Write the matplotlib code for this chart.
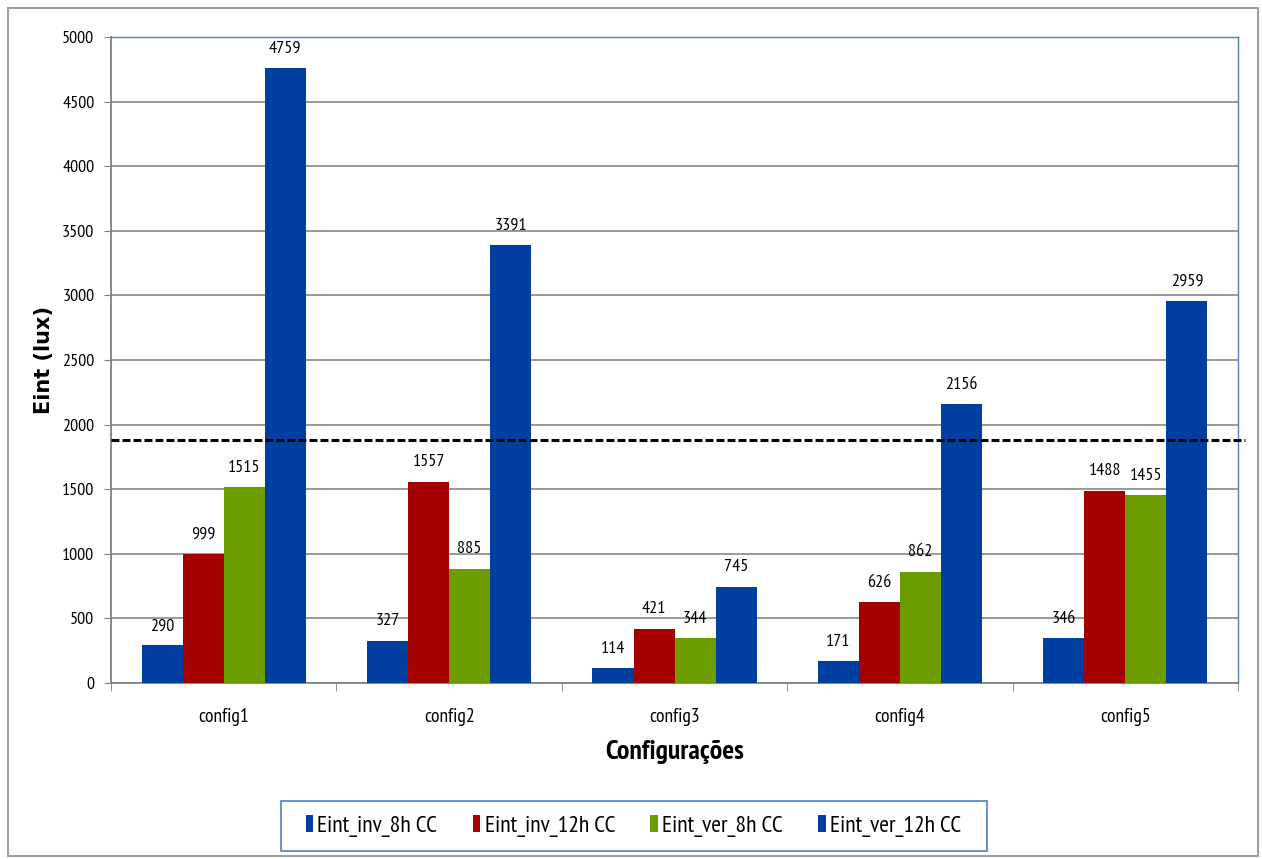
import matplotlib.pyplot as plt
import matplotlib.patches as mpatches
import numpy as np

configs = ['config1', 'config2', 'config3', 'config4', 'config5']
series = ['Eint_inv_8h CC', 'Eint_inv_12h CC', 'Eint_ver_8h CC', 'Eint_ver_12h CC']
inv_8h = [290, 327, 114, 171, 346]
inv_12h = [999, 1557, 421, 626, 1488]
ver_8h = [1515, 885, 344, 862, 1455]
ver_12h = [4759, 3391, 745, 2156, 2959]
limite = 1880

colours = ['#003f9f', '#a50000', '#6b9c00', '#003f9f']
font = ['PT Sans Narrow', 'DejaVu Sans']

fig = plt.figure(figsize=(12.62, 8.59), dpi=100)
ax = fig.add_axes([0.088, 0.205, 0.893, 0.752])

# moldura externa
fig.patches.append(mpatches.Rectangle((0.006, 0.004), 0.991, 0.987, transform=fig.transFigure,
                                      fill=False, edgecolor='#a0a0a0', lw=1.5))
# caixa da legenda
fig.patches.append(mpatches.Rectangle((0.2227, 0.0093), 0.5594, 0.0582, transform=fig.transFigure,
                                      fill=False, edgecolor='#4f7fbf', lw=1.2))

x = np.arange(len(configs))
w = 0.182
for i, (vals, c) in enumerate(zip([inv_8h, inv_12h, ver_8h, ver_12h], colours)):
    pos = x + (i - 1.5) * w
    ax.bar(pos, vals, w, color=c, label=series[i], zorder=3)
    for p, v in zip(pos, vals):
        ax.annotate(str(v), xy=(p, v), xytext=(0, 11), textcoords='offset points',
                    ha='center', va='baseline', fontsize=13, family=font, zorder=4)

ax.axhline(limite, xmin=0, xmax=1.006, color='black', ls='--', lw=2.2, dashes=(2.6, 1),
           clip_on=False, zorder=5)

ax.set_xlim(-0.5, 4.5)
ax.set_ylim(0, 5000)
ax.set_yticks(range(0, 5001, 500))
ax.set_yticklabels([str(v) for v in range(0, 5001, 500)], family=font, fontsize=13)
ax.set_xticks(x)
ax.set_xticklabels(configs, family=font, fontsize=14)
ax.tick_params(axis='x', length=0, pad=18)
ax.set_xticks(np.arange(-0.5, 5, 1), minor=True)
ax.tick_params(axis='x', which='minor', length=6, color='#808080')
ax.tick_params(axis='y', length=5, color='#808080', pad=7)
ax.grid(axis='y', color='#878787', lw=1.2, zorder=0)

for s in ['left', 'bottom']:
    ax.spines[s].set_color('#808080')
    ax.spines[s].set_linewidth(1.3)
for s in ['top', 'right']:
    ax.spines[s].set_color('#4f7fbf')
    ax.spines[s].set_linewidth(1)

ax.set_xlabel('Configurações', family=font, fontsize=20, fontweight='bold', labelpad=10)
ax.set_ylabel('Eint (lux)', fontsize=15, fontweight='bold', labelpad=6)

leg = ax.legend(loc='center', bbox_to_anchor=(0.502, 0.0384), bbox_transform=fig.transFigure,
                ncol=4, frameon=False, prop={'family': font, 'size': 17},
                handlelength=0.3, handleheight=0.75, handletextpad=0.2, columnspacing=1.5,
                borderpad=0.55, borderaxespad=0)

plt.savefig('out.png')
